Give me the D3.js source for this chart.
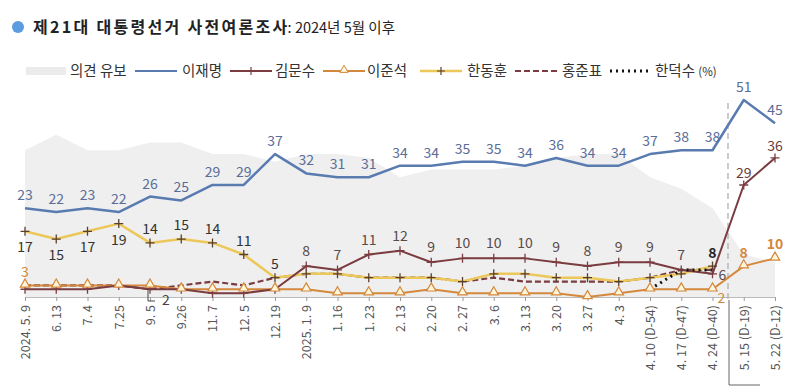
<!DOCTYPE html>
<html><head><meta charset="utf-8">
<script src="https://cdn.jsdelivr.net/npm/d3@7"></script>
<style>
body{margin:0;background:#fff;}
svg{display:block;font-family:"Noto Sans CJK KR","Noto Sans",sans-serif;}
</style></head>
<body><svg id="c" width="800" height="390"></svg>
<script>
const categories = ["2024. 5. 9","6. 13","7. 4","7.25","9. 5","9.26","11. 7","12. 5","12. 19","2025. 1. 9","1. 16","1. 23","2. 13","2. 20","2. 27","3. 6","3. 13","3. 20","3. 27","4. 3","4. 10 (D-54)","4. 17 (D-47)","4. 24 (D-40)","5. 15 (D-19)","5. 22 (D-12)"];
const undecided = [38,42,38,38,40,40,37,37,35,37,37,36,31,33,33,33,34,36,37,37,31,28,23,11,9];
const leeJM  = [23,22,23,22,26,25,29,29,37,32,31,31,34,34,35,35,34,36,34,34,37,38,38,51,45];
const kimMS  = [2,2,2,3,2,2,1,1,2,8,7,11,12,9,10,10,10,9,8,9,9,7,6,29,36];
const leeJS  = [3,3,3,3,3,2,2,2,2,2,1,1,1,2,1,1,1,1,0,1,2,2,2,8,10];
const hanDH  = [17,15,17,19,14,15,14,11,5,6,6,5,5,5,4,6,6,5,5,4,5,6,8,null,null];
const hongJP = [3,3,3,3,2,3,4,3,5,6,6,5,5,5,4,5,4,4,4,4,5,7,7,null,null];
const hanDS  = [null,null,null,null,null,null,null,null,null,null,null,null,null,null,null,null,null,null,null,null,2,7,7,null,null];
const legendNames = ["의견 유보","이재명","김문수","이준석","한동훈","홍준표","한덕수 (%)"];

const svg = d3.select("#c");
const x = d3.scalePoint().domain(categories).range([25,775]);
const y = d3.scaleLinear().domain([0,51]).range([297,100]);
const idx = d3.range(categories.length);
const X = i => x(categories[i]);

// title
svg.append("circle").attr("cx",18).attr("cy",27).attr("r",6).attr("fill","#5b9bdf");
const t = svg.append("text").attr("x",33).attr("y",32.5).attr("fill","#222");
t.append("tspan").attr("font-weight","bold").attr("font-size",16).attr("letter-spacing",2.3).text("제21대 대통령선거 사전여론조사");
t.append("tspan").attr("font-size",14.5).attr("dx",-2).text(": 2024년 5월 이후");

// undecided area
const area = d3.area().x(i=>X(i)).y0(y(0)).y1(i=>y(undecided[i]));
svg.append("path").datum(idx).attr("d",area).attr("fill","#efefef");

// axis
const ax = svg.append("g").attr("transform",`translate(0,${y(0)})`)
  .call(d3.axisBottom(x).tickSize(4).tickPadding(6));
ax.select(".domain").attr("stroke","#bbb");
ax.selectAll(".tick line").attr("stroke","#999");
ax.selectAll(".tick text").attr("transform","rotate(-90)").attr("text-anchor","end")
  .attr("x",-8).attr("y",0).attr("dy","0.35em").attr("font-size",12.5).attr("fill","#555")
  .attr("font-family","'Noto Sans CJK KR',sans-serif");

// separator
svg.append("line").attr("x1",728).attr("x2",728).attr("y1",103).attr("y2",300)
  .attr("stroke","#aaa").attr("stroke-width",1.2).attr("stroke-dasharray","6,4");
svg.append("path").attr("d","M729,300V385H760").attr("fill","none").attr("stroke","#666").attr("stroke-width",1);

function drawLine(data,color,w,dash){
  const line = d3.line().defined(i=>data[i]!=null).x(i=>X(i)).y(i=>y(data[i]));
  svg.append("path").datum(idx).attr("d",line).attr("fill","none").attr("stroke",color)
    .attr("stroke-width",w).attr("stroke-dasharray",dash||null).attr("stroke-linejoin","round");
}
const cYel="#ecc85a", cOr="#d4883c", cKim="#7a3c40", cLee="#5a7bb0";
drawLine(hongJP,cKim,2.2,"6,3");
drawLine(leeJS,cOr,2);
drawLine(hanDH,cYel,2.5);
drawLine(kimMS,cKim,2);
drawLine(hanDS,"#111",3,"2,4");
drawLine(leeJM,cLee,2.5);

function plus(data,color,from){
  idx.filter(i=>data[i]!=null && i>=from).forEach(i=>{
    svg.append("path").attr("d",`M${X(i)-4.5},${y(data[i])}h9M${X(i)},${y(data[i])-4.5}v9`)
      .attr("stroke",color).attr("stroke-width",1.3);
  });
}
plus(hanDH,"#5a4030",0);
plus(kimMS,cKim,0);
idx.filter(i=>leeJS[i]!=null).forEach(i=>{
  svg.append("path").attr("d",d3.symbol(d3.symbolTriangle,38)())
    .attr("transform",`translate(${X(i)},${y(leeJS[i])-1})`)
    .attr("fill","#fff6dc").attr("stroke",cOr).attr("stroke-width",1.2);
});

// labels
function label(i,v,dx,dy,color,weight){
  svg.append("text").attr("x",X(i)+dx).attr("y",y(v)+dy).attr("text-anchor","middle")
    .attr("font-size",14).attr("fill",color).attr("font-weight",weight||"normal").text(v);
}
idx.forEach(i=>label(i,leeJM[i],0,-8,"#5a6d98"));
const hanPos=[1,1,1,1,-1,-1,-1,-1,-1];
hanPos.forEach((p,i)=>label(i,hanDH[i],0,p>0?21:-9,"#333"));
for(let i=9;i<=21;i++) label(i,kimMS[i],0,-10,"#5a4a4a");
label(22,kimMS[22],10,6,"#5a4a4a");
label(23,kimMS[23],0,-7,"#6a3a3a");
label(24,kimMS[24],0,-7,"#6a3a3a");
label(22,hanDH[22],0,-8,"#222","bold");
label(0,leeJS[0],0,-8,"#d4883c");
label(22,leeJS[22],9,14,"#d4883c");
label(23,leeJS[23],0,-8,"#d4883c","bold");
label(24,leeJS[24],0,-9,"#d4883c","bold");
// callout 2
svg.append("path").attr("d",`M${X(4)-2},${y(kimMS[4])}V${y(0)+4}h7`).attr("fill","none").attr("stroke","#444").attr("stroke-width",1);
label(4,kimMS[4],16,16,"#444");

// legend
const lg = svg.append("g").attr("font-size",14.5).attr("fill","#333");
const ly = 71;
lg.append("rect").attr("x",26).attr("y",ly-4).attr("width",40).attr("height",8).attr("fill","#ebebeb");
lg.append("text").attr("x",70).attr("y",ly+5).attr("fill","#333").text(legendNames[0]);
const items=[
  {x:135,c:cLee,w:2,d:null,m:null,tx:182,n:1},
  {x:230,c:cKim,w:2,d:null,m:"plus",tx:275,n:2},
  {x:323,c:cOr,w:2,d:null,m:"tri",tx:367,n:3},
  {x:420,c:cYel,w:2.5,d:null,m:"plus2",tx:467,n:4},
  {x:515,c:cKim,w:2,d:"6,3",m:null,tx:562,n:5},
  {x:610,c:"#111",w:3,d:"2,4",m:null,tx:655,n:6}
];
items.forEach(it=>{
  lg.append("line").attr("x1",it.x).attr("x2",it.x+42).attr("y1",ly).attr("y2",ly)
    .attr("stroke",it.c).attr("stroke-width",it.w).attr("stroke-dasharray",it.d);
  const cx=it.x+21;
  if(it.m==="plus"||it.m==="plus2") lg.append("path").attr("d",`M${cx-4},${ly}h8M${cx},${ly-4}v8`).attr("stroke",it.m==="plus"?cKim:"#5a4030").attr("stroke-width",1.2);
  if(it.m==="tri") lg.append("path").attr("d",d3.symbol(d3.symbolTriangle,30)()).attr("transform",`translate(${cx},${ly-1})`).attr("fill","#fff6dc").attr("stroke",cOr);
  const tt = lg.append("text").attr("x",it.tx).attr("y",ly+5).attr("fill","#333");
  if(it.n===6){ tt.append("tspan").text("한덕수 "); tt.append("tspan").attr("font-size",11.5).text("(%)"); }
  else tt.text(legendNames[it.n]);
});
</script></body></html>
